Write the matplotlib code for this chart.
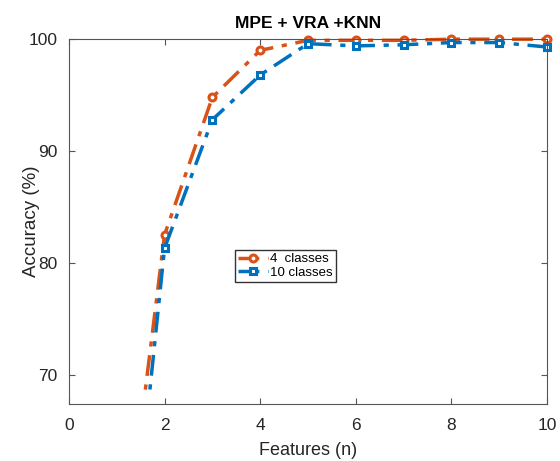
import matplotlib.pyplot as plt
from matplotlib.patches import Rectangle

plt.rcParams['font.family'] = ['Liberation Sans', 'DejaVu Sans']

# Data
features = [1, 2, 3, 4, 5, 6, 7, 8, 9, 10]
acc_4_classes = [48.0, 82.5, 94.8, 99.0, 99.9, 99.9, 99.9, 100.0, 100.0, 100.0]
acc_10_classes = [40.0, 81.3, 92.8, 96.8, 99.6, 99.4, 99.5, 99.7, 99.7, 99.3]

fig = plt.figure(figsize=(5.6, 4.61), dpi=100)
ax = fig.add_axes([0.123, 0.124, 0.854, 0.791])

l1, = ax.plot(features, acc_4_classes, color='#D95319', linewidth=2.5,
              dashes=(6, 2.5, 1.5, 2.5),
              marker='o', markersize=5, markerfacecolor='white', markeredgewidth=2.2,
              label='4  classes')
l2, = ax.plot(features, acc_10_classes, color='#0072BD', linewidth=2.5,
              dashes=(6, 2.5, 1.5, 2.5),
              marker='s', markersize=4.5, markerfacecolor='white', markeredgewidth=2.2,
              label='10 classes')

# let markers sitting on the top/right edge show fully; line stops a bit above the bottom
clip = Rectangle((0, 0.025), 1.03, 1.03, transform=ax.transAxes, visible=False)
ax.add_patch(clip)
for ln in (l1, l2):
    ln.set_clip_path(clip)

ax.set_xlim(0, 10)
ax.set_ylim(67.4, 100)
ax.set_xticks([0, 2, 4, 6, 8, 10])
ax.set_yticks([70, 80, 90, 100])

for s in ax.spines.values():
    s.set_color('#555555')
    s.set_linewidth(0.8)
ax.tick_params(direction='in', top=True, right=True, length=4, width=0.8,
               colors='#555555', labelcolor='#262626', labelsize=12.5)
ax.tick_params(axis='x', pad=10)
ax.tick_params(axis='y', pad=8)

ax.set_xlabel('Features (n)', fontsize=13, color='#262626', labelpad=7)
ax.set_ylabel('Accuracy (%)', fontsize=13.5, color='#262626', labelpad=-8)
ax.set_title('MPE + VRA +KNN', fontsize=12.5, fontweight='bold', pad=8)

ax.legend(loc='upper left', bbox_to_anchor=(0.347, 0.422), fontsize=9.5,
          frameon=True, fancybox=False, edgecolor='#333333', framealpha=1,
          handlelength=2.3, handletextpad=0.1, borderpad=0.25, labelspacing=0.1,
          borderaxespad=0)

fig.savefig('out.png', dpi=100)
